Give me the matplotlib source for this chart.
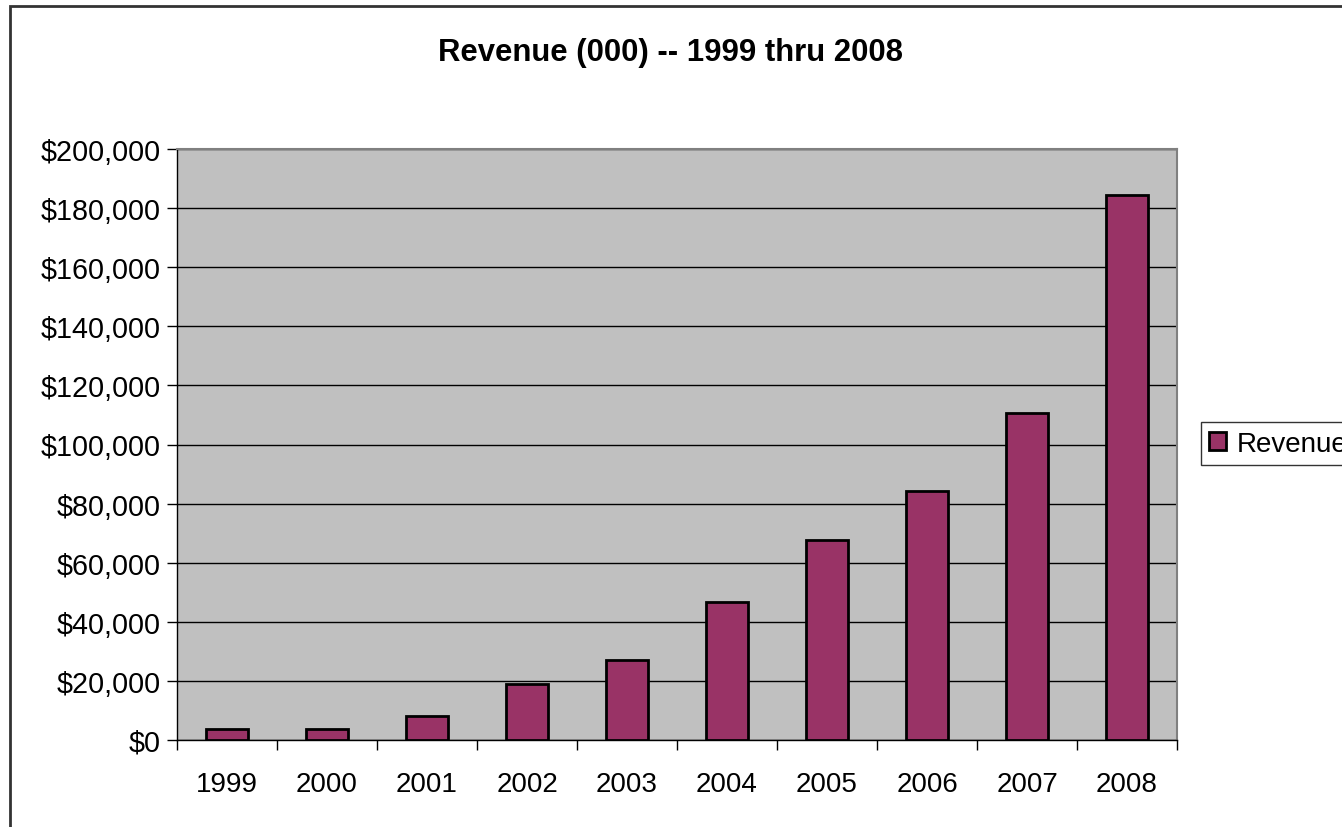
#!/usr/bin/env python3

import matplotlib
matplotlib.use('Agg')
import matplotlib.pyplot as plt
import matplotlib.ticker as tkr
from matplotlib.patches import Rectangle

years = ['1999', '2000', '2001', '2002', '2003', '2004', '2005', '2006', '2007', '2008']
revenue = [3800, 3800, 8200, 18800, 27100, 46700, 67700, 84400, 110700, 184500]
title = 'Revenue (000) -- 1999 thru 2008'
series_name = 'Revenue'


def main():
  plt.rcParams['font.family'] = ['Liberation Sans', 'DejaVu Sans']
  W, H = 1342, 828
  fig = plt.figure(figsize=(W / 100, H / 100), dpi=100)

  # outer chart-area frame (runs off the right and bottom edges)
  fig.patches.append(Rectangle((10 / W, -0.1), 1.2, 1 - 7 / H + 0.1,
                               transform=fig.transFigure, fill=False,
                               edgecolor='#333333', linewidth=2.0))

  ax = fig.add_axes([177 / W, 87 / H, 1000 / W, 591 / H])
  ax.set_facecolor('#C0C0C0')
  x = list(range(len(years)))
  ax.bar(x, revenue, width=0.42, color='#993366', edgecolor='black',
         linewidth=2.0, zorder=3, label=series_name)

  ax.set_xlim(-0.5, len(years) - 0.5)
  ax.set_ylim(0, 200000)
  ax.yaxis.set_major_locator(tkr.MultipleLocator(20000))
  ax.yaxis.set_major_formatter(tkr.FuncFormatter(lambda v, p: '${:,.0f}'.format(v)))
  ax.yaxis.grid(True, color='black', linewidth=1.0, zorder=1)
  ax.set_axisbelow(True)

  ax.set_xticks(x)
  ax.set_xticklabels(years)
  ax.set_xticks([i - 0.5 for i in range(len(years) + 1)], minor=True)
  ax.tick_params(axis='x', which='major', length=0, pad=22, labelsize=20)
  ax.tick_params(axis='x', which='minor', length=7, width=1, color='black')
  ax.tick_params(axis='y', length=7, width=1, color='black', pad=5, labelsize=20.7)

  for s in ['top', 'right']:
    ax.spines[s].set_color('#808080')
    ax.spines[s].set_linewidth(1.5)
  for s in ['left', 'bottom']:
    ax.spines[s].set_color('black')
    ax.spines[s].set_linewidth(1.0)

  fig.text(0.5, 1 - 53 / H, title, ha='center', va='center',
           fontsize=22.4, fontweight='bold')

  h, l = ax.get_legend_handles_labels()
  leg = fig.legend(h, l, loc='center left',
                   bbox_to_anchor=(1201 / W, 1 - 444.5 / H),
                   fontsize=20, frameon=True, fancybox=False,
                   handlelength=0.6, handleheight=0.6, handletextpad=0.4,
                   borderpad=0.3, borderaxespad=0)
  leg.get_frame().set_edgecolor('black')
  leg.get_frame().set_linewidth(1.0)

  fig.savefig('out.png', dpi=100)


if __name__ == '__main__':
  main()
